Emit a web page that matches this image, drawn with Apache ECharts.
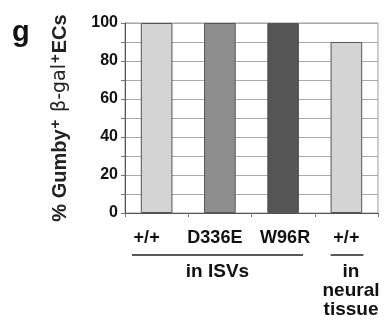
<!DOCTYPE html>
<html><head><meta charset="utf-8">
<script src="https://cdn.jsdelivr.net/npm/echarts@6/dist/echarts.min.js"></script>
<style>html,body{margin:0;padding:0;background:#fff}#c{width:385px;height:332px}</style>
</head><body><div id="c"></div>
<script>
const categories = ['+/+', 'D336E', 'W96R', '+/+'];
const values = [100, 100, 100, 90];
const barColors = ['#d4d4d4', '#8e8e8e', '#555555', '#d4d4d4'];
const yTicks = [0, 20, 40, 60, 80, 100];
const groups = [
  { label: 'in ISVs', from: 0, to: 2 },
  { label: 'in\nneural\ntissue', from: 3, to: 3 }
];
const FONT = 'Liberation Sans, Arial, sans-serif';
const labelShift = [-10, -5, 2, 0];
const chart = echarts.init(document.getElementById('c'), null, { renderer: 'canvas' });
const rich = {};
labelShift.forEach((s, i) => {
  rich['l' + i] = { fontSize: 18, fontWeight: 'bold', color: '#111', fontFamily: FONT,
    padding: s < 0 ? [0, -2 * s, 0, 0] : [0, 0, 0, 2 * s] };
});
chart.setOption({
  animation: false,
  backgroundColor: '#fff',
  grid: { left: 125, right: 7, top: 23, bottom: 119, show: true, borderColor: '#9a9a9a', borderWidth: 1 },
  xAxis: {
    type: 'category', data: categories,
    axisLine: { lineStyle: { color: '#555', width: 1 } },
    axisTick: { show: true, length: 4, lineStyle: { color: '#777' } },
    axisLabel: { interval: 0, hideOverlap: false, margin: 16, formatter: (v, i) => '{l' + i + '|' + v + '}', rich: rich }
  },
  yAxis: {
    type: 'value', min: yTicks[0], max: yTicks[yTicks.length - 1], interval: 20,
    name: '{a|% Gumby}{s|+}  {b|β-gal}{s|+}{a|ECs}',
    nameLocation: 'middle', nameGap: 53, nameRotate: 90,
    nameTextStyle: {
      rich: {
        a: { fontSize: 20, fontWeight: 'bold', color: '#222', fontFamily: FONT, lineHeight: 24 },
        b: { fontSize: 19, fontWeight: 'normal', color: '#222', fontFamily: 'DejaVu Sans, sans-serif', lineHeight: 24 },
        s: { fontSize: 15, fontWeight: 'bold', color: '#222', fontFamily: FONT, verticalAlign: 'top', lineHeight: 24, padding: [0, 1, 8, 1] }
      }
    },
    axisLine: { show: true, lineStyle: { color: '#555' } },
    axisTick: { show: true, length: 4, lineStyle: { color: '#777' } },
    minorTick: { show: true, splitNumber: 2, length: 4, lineStyle: { color: '#777' } },
    splitLine: { lineStyle: { color: '#aaa' } },
    minorSplitLine: { show: true, lineStyle: { color: '#aaa' } },
    axisLabel: { color: '#111', fontWeight: 'bold', fontSize: 16, fontFamily: FONT, margin: 7 }
  },
  series: [{
    type: 'bar', barWidth: '50%',
    data: values.map((v, i) => ({ value: v, itemStyle: { color: barColors[i], borderColor: '#555', borderWidth: 1 } }))
  }]
});
const half = (chart.convertToPixel({ xAxisIndex: 0 }, 1) - chart.convertToPixel({ xAxisIndex: 0 }, 0)) / 2;
const ext = [[0.78, 0.63], [0.5, 0.54]];
const textShift = [0, 4];
const elements = [];
groups.forEach((g, k) => {
  const x0 = chart.convertToPixel({ xAxisIndex: 0 }, g.from) - half * ext[k][0];
  const x1 = chart.convertToPixel({ xAxisIndex: 0 }, g.to) + half * ext[k][1];
  const y = 255;
  elements.push({ type: 'line', shape: { x1: x0, y1: y, x2: x1, y2: y }, style: { stroke: '#222', lineWidth: 1.5 } });
  elements.push({ type: 'text', x: (x0 + x1) / 2 + textShift[k], y: y + 7,
    style: { text: g.label, fill: '#111', font: 'bold 19px ' + FONT, textAlign: 'center', textVerticalAlign: 'top', lineHeight: 19 } });
});
elements.push({ type: 'text', x: 12, y: 18, style: { text: 'g', fill: '#111', font: 'bold 29px ' + FONT } });
chart.setOption({ graphic: elements });
</script></body></html>
